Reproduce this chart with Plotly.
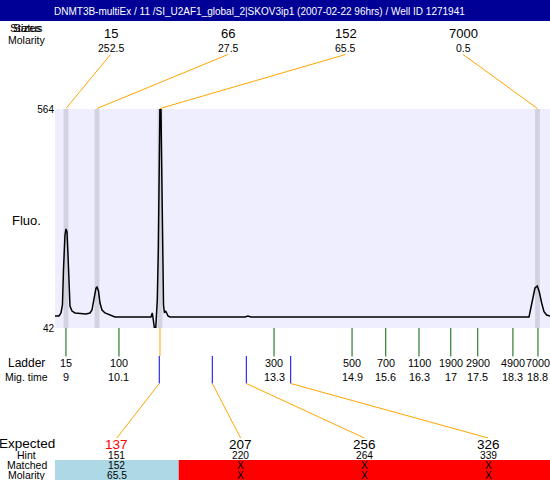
import plotly.graph_objects as go

# ---------------- data ----------------
trace_time = [8.772, 8.855, 8.896, 8.927, 8.948, 8.979, 9.0, 9.021, 9.042, 9.062, 9.083, 9.125,
              9.187, 9.415, 9.498, 9.54, 9.581, 9.623, 9.644, 9.675, 9.706, 9.748, 9.81, 9.914,
              10.017, 10.765, 10.792, 10.813, 10.838, 10.863, 10.879, 10.896, 10.917, 10.938,
              10.952, 10.967, 10.983, 11.004, 11.025, 11.045, 11.07, 11.091, 11.118, 11.16,
              12.717, 12.779, 12.841, 18.614, 18.67, 18.703, 18.738, 18.786, 18.828, 18.877,
              18.925, 18.981, 19.05]
trace_fluo = [70.6, 70.6, 77.8, 96.8, 180.3, 263.7, 278.0, 270.8, 216.0, 139.7, 94.4, 82.5,
              77.8, 75.4, 77.8, 84.9, 113.5, 137.3, 139.7, 130.2, 101.6, 84.9, 77.8, 73.0,
              68.2, 68.2, 77.8, 61.1, 39.6, 39.6, 65.8, 108.7, 227.9, 490.1,
              585.5, 609.0, 490.1, 227.9, 96.8, 77.8, 82.5, 77.8, 70.6, 68.2,
              68.2, 70.6, 68.2, 68.2, 101.6, 120.7, 137.3, 142.1, 127.8, 101.6,
              80.9, 73.0, 70.6]

peak_size = ["15", "66", "152", "7000"]
peak_molarity = ["252.5", "27.5", "65.5", "0.5"]
peak_time = [9.0, 9.644, 10.952, 18.79]

ladder_size = ["15", "100", "300", "500", "700", "1100", "1900", "2900", "4900", "7000"]
ladder_mig_label = ["9", "10.1", "13.3", "14.9", "15.6", "16.3", "17", "17.5", "18.3", "18.8"]
ladder_time = [9.0, 10.1, 13.32, 14.94, 15.64, 16.33, 16.99, 17.55, 18.28, 18.8]

expected_size = ["137", "207", "256", "326"]
expected_hint = ["151", "220", "264", "339"]
expected_matched = ["152", "X", "X", "X"]
expected_molarity = ["65.5", "X", "X", "X"]
expected_time = [10.937, 12.038, 12.744, 13.666]
matched_peak_time = [10.952, None, None, None]

y_ticks = [42, 564]
y_range = [42, 564]
x_range = [8.772, 19.05]

title_text = "DNMT3B-multiEx / 11 /SI_U2AF1_global_2|SKOV3ip1 (2007-02-22 96hrs) / Well ID 1271941"

# ---------------- layout helpers ----------------
W, H = 550, 480
PL, PR, PT, PB = 55, 550, 109, 328
FONT = "Liberation Sans, Arial, sans-serif"
NAVY = "#000096"
ORANGE = "#FFA500"
GREEN = "#006400"
BLUE = "#0000FF"
BAND = "#D2D2E0"


def fx(xpx):
    return (xpx - PL) / (PR - PL)


def fy(ypx):
    return (PB - ypx) / (PB - PT)


def t_of_frac(f):
    return x_range[0] + f * (x_range[1] - x_range[0])


fig = go.Figure()
fig.add_trace(go.Scatter(x=trace_time, y=trace_fluo, mode="lines",
                         line=dict(color="black", width=1.5), hoverinfo="skip",
                         showlegend=False))

shapes = []
ann = []


def text(x, y, s, size, color="black", xref="paper", xanchor="center"):
    ann.append(dict(x=x, y=y, xref=xref, yref="paper", text=s, showarrow=False,
                    xanchor=xanchor, yanchor="middle",
                    font=dict(family=FONT, size=size, color=color)))


# title bar
shapes.append(dict(type="rect", xref="paper", yref="paper", x0=fx(0), x1=fx(550),
                   y0=fy(21), y1=fy(0), fillcolor=NAVY, line=dict(width=0), layer="above"))
text(fx(259), fy(11.5), title_text, 10, color="white")

# left labels
LX = fx(26.5)
text(LX, fy(28), "Sizes", 11.5)
text(LX, fy(28), "Status", 11.5)
text(LX, fy(40.5), "Molarity", 10.5)
text(LX, fy(220), "Fluo.", 13)
text(LX, fy(363), "Ladder", 12)
text(LX, fy(377), "Mig. time", 10.5)
text(LX, fy(443.5), "Expected", 13.5)
text(LX, fy(455), "Hint", 10.5)
text(LX, fy(465), "Matched", 10.5)
text(LX, fy(474.5), "Molarity", 10.5)

# peak bands, top labels and connectors
top_frac = [fx(110.5) + i * 0.2374 for i in range(len(peak_size))]
for i, t in enumerate(peak_time):
    shapes.append(dict(type="rect", xref="x", yref="paper", x0=t - 0.05, x1=t + 0.05,
                       y0=0, y1=1, fillcolor=BAND, line=dict(width=0), layer="below"))
    lt = t_of_frac(top_frac[i])
    text(lt, fy(34), peak_size[i], 13, xref="x")
    text(lt, fy(47.5), peak_molarity[i], 10.5, xref="x")
    shapes.append(dict(type="line", xref="x", yref="paper", x0=lt, x1=t,
                       y0=fy(54.5), y1=fy(108.5), line=dict(color=ORANGE, width=1)))

# ladder ticks and labels
for i, t in enumerate(ladder_time):
    shapes.append(dict(type="line", xref="x", yref="paper", x0=t, x1=t,
                       y0=fy(328), y1=fy(356.5), line=dict(color=GREEN, width=1)))
    text(t, fy(363), ladder_size[i], 10.8, xref="x")
    text(t, fy(377), ladder_mig_label[i], 10.8, xref="x")

# expected markers, connectors and table
n = len(expected_size)
# unmatched background for the whole row, matched cells painted over it
shapes.append(dict(type="rect", xref="paper", yref="paper", x0=0, x1=1,
                   y0=fy(480), y1=fy(460), fillcolor="#FF0000",
                   line=dict(width=0), layer="above"))
for i in range(n):
    mt = matched_peak_time[i]
    if mt is not None:
        shapes.append(dict(type="line", xref="x", yref="paper", x0=mt, x1=mt,
                           y0=fy(328), y1=fy(356), line=dict(color=ORANGE, width=1)))
    et = expected_time[i]
    shapes.append(dict(type="line", xref="x", yref="paper", x0=et, x1=et,
                       y0=fy(356), y1=fy(383.5), line=dict(color=BLUE, width=1)))
    cf = (i + 0.5) / n
    ct = t_of_frac(cf)
    shapes.append(dict(type="line", xref="x", yref="paper", x0=et, x1=ct,
                       y0=fy(383.5), y1=fy(438), line=dict(color=ORANGE, width=1)))
    matched = expected_matched[i] != "X"
    if matched:
        shapes.append(dict(type="rect", xref="paper", yref="paper", x0=i / n, x1=(i + 1) / n,
                           y0=fy(480), y1=fy(460), fillcolor="#ADD8E6",
                           line=dict(width=0), layer="above"))
    text(cf, fy(444), expected_size[i], 13.5, color="#FF0000" if matched else "black")
    text(cf, fy(455), expected_hint[i], 10.2)
    text(cf, fy(465.5), expected_matched[i], 10.2)
    text(cf, fy(475), expected_molarity[i], 10.2)

fig.update_layout(
    width=W, height=H, autosize=False,
    margin=dict(l=PL, r=W - PR, t=PT, b=H - PB, pad=0),
    paper_bgcolor="white", plot_bgcolor="#EEEEFF",
    shapes=shapes, annotations=ann, showlegend=False,
    font=dict(family=FONT, color="black"),
    xaxis=dict(range=x_range, showgrid=False, zeroline=False, showline=False,
               showticklabels=False, ticks="", fixedrange=True),
    yaxis=dict(range=y_range, tickvals=y_ticks, ticktext=[str(v) for v in y_ticks],
               showgrid=False, zeroline=False, showline=False, ticks="",
               tickfont=dict(family=FONT, size=10, color="black"), fixedrange=True),
)

fig.write_html("out.html", config={"displayModeBar": False},
               post_script="document.body.style.margin='0';document.body.style.overflow='hidden';")
